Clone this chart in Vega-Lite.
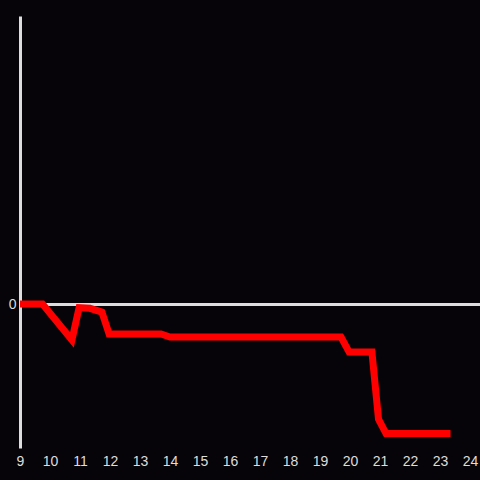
{
  "$schema": "https://vega.github.io/schema/vega-lite/v6.json",
  "autosize": "none",
  "padding": {"left": 20, "top": 16, "right": 0, "bottom": 32},
  "width": 460,
  "height": 432,
  "background": "#060408",
  "config": {"view": {"stroke": null}},
  "data": {"values": [
    {"x": 9.0, "y": 0},
    {"x": 9.75, "y": 0},
    {"x": 10.73, "y": -0.25},
    {"x": 10.97, "y": -0.025},
    {"x": 11.33, "y": -0.03},
    {"x": 11.73, "y": -0.056},
    {"x": 11.97, "y": -0.208},
    {"x": 13.7, "y": -0.208},
    {"x": 14.0, "y": -0.229},
    {"x": 19.7, "y": -0.229},
    {"x": 19.97, "y": -0.333},
    {"x": 20.73, "y": -0.333},
    {"x": 20.95, "y": -0.8},
    {"x": 21.2, "y": -0.9},
    {"x": 23.35, "y": -0.9}
  ]},
  "mark": {"type": "line", "color": "#ff0000", "strokeWidth": 7, "strokeJoin": "miter", "strokeCap": "butt"},
  "encoding": {
    "x": {"field": "x", "type": "quantitative",
      "scale": {"domain": [9, 24.333], "nice": false, "zero": false},
      "axis": {"title": null, "values": [9,10,11,12,13,14,15,16,17,18,19,20,21,22,23,24], "grid": false, "domain": false, "ticks": false, "labelPadding": 6, "labelColor": "#dddddd", "labelFontSize": 14, "labelFont": "Liberation Sans", "labelOverlap": false, "labelFlush": false, "format": "d"}},
    "y": {"field": "y", "type": "quantitative",
      "scale": {"domain": [-1, 2], "nice": false, "zero": false},
      "axis": {"title": null, "values": [0], "grid": true, "gridColor": "#dddddd", "gridWidth": 3, "gridOpacity": 1, "domain": true, "domainColor": "#dddddd", "domainWidth": 3, "ticks": false, "labelPadding": 4, "labelColor": "#dddddd", "labelFontSize": 14, "labelFont": "Liberation Sans"}}
  }
}
